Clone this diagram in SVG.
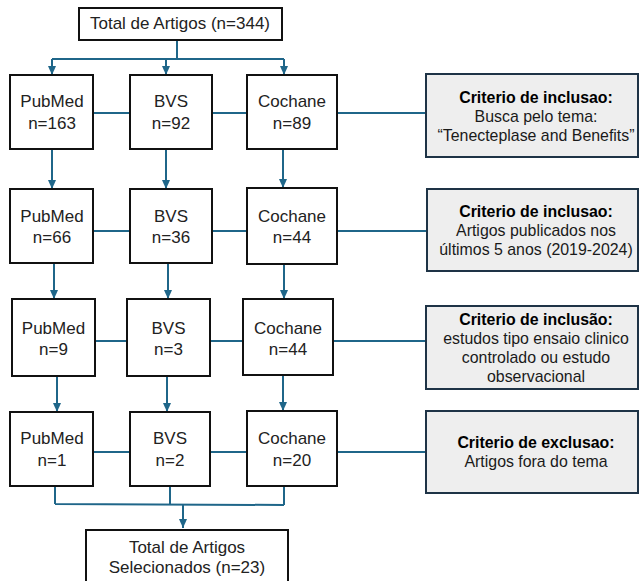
<svg xmlns="http://www.w3.org/2000/svg" width="639" height="581" viewBox="0 0 639 581">
<defs>
<style>
.node rect{fill:#ffffff;stroke:#111111;stroke-width:2}
.node text{font-family:"Liberation Sans",Arial,sans-serif;font-size:17px;fill:#222222;text-anchor:middle}
.crit rect{fill:#eeeeee;stroke:#1e3346;stroke-width:2}
.crit text{font-family:"Liberation Sans",Arial,sans-serif;font-size:15.9px;fill:#1a1a1a;text-anchor:middle}
.crit .b{font-weight:bold;fill:#000000}
#connectors path{fill:none;stroke:#1f6689;stroke-width:2}
</style>
<marker id="arr" markerUnits="userSpaceOnUse" markerWidth="10" markerHeight="10" viewBox="0 0 10 10" refX="9" refY="5" orient="auto">
<path d="M0,1 L9,5 L0,9 z" fill="#1f6689"/>
</marker>
</defs>
<rect width="639" height="581" fill="#ffffff"/>
<g id="connectors">
<path d="M177,40 V59 M52,59 H284"/>
<path d="M52,59 V75" marker-end="url(#arr)"/>
<path d="M166,59 V75" marker-end="url(#arr)"/>
<path d="M284,59 V75" marker-end="url(#arr)"/>
<path d="M93,113 H130 M212,113 H247 M337,113 H426"/>
<path d="M52,149 V189" marker-end="url(#arr)"/>
<path d="M166,149 V189" marker-end="url(#arr)"/>
<path d="M283,149 V188" marker-end="url(#arr)"/>
<path d="M93,231 H130 M212,231 H247 M337,231 H427"/>
<path d="M54,263 V299" marker-end="url(#arr)"/>
<path d="M168,263 V299" marker-end="url(#arr)"/>
<path d="M284,264 V299" marker-end="url(#arr)"/>
<path d="M95,341 H127 M210,341 H243 M333,341 H426"/>
<path d="M57,376 V412" marker-end="url(#arr)"/>
<path d="M167,376 V412" marker-end="url(#arr)"/>
<path d="M283,375 V411" marker-end="url(#arr)"/>
<path d="M93,452 H130 M210,452 H247 M337,452 H426"/>
<path d="M55,486 V504 M170,486 V504 M284,486 V505 M55,504 L284,505"/>
<path d="M183,504 V528" marker-end="url(#arr)"/>
</g>
<g id="total" class="node"><rect x="79" y="8" width="203" height="32"/><text x="180" y="29">Total de Artigos (n=344)</text></g>
<g id="pubmed1" class="node"><rect x="10" y="75" width="83" height="74"/><text x="52" y="107">PubMed</text><text x="52" y="129">n=163</text></g>
<g id="bvs1" class="node"><rect x="130" y="75" width="82" height="74"/><text x="171" y="107">BVS</text><text x="171" y="129">n=92</text></g>
<g id="cochane1" class="node"><rect x="247" y="75" width="90" height="74"/><text x="292" y="107">Cochane</text><text x="292" y="129">n=89</text></g>
<g id="crit1" class="crit"><rect x="426" y="74" width="212" height="83"/><text class="b" x="536" y="103">Criterio de inclusao:</text><text x="536" y="122">Busca pelo tema:</text><text x="536" y="141">“Tenecteplase and Benefits”</text></g>
<g id="pubmed2" class="node"><rect x="10" y="189" width="83" height="74"/><text x="52" y="222">PubMed</text><text x="52" y="243">n=66</text></g>
<g id="bvs2" class="node"><rect x="130" y="189" width="82" height="74"/><text x="171" y="222">BVS</text><text x="171" y="243">n=36</text></g>
<g id="cochane2" class="node"><rect x="247" y="188" width="90" height="76"/><text x="292" y="222">Cochane</text><text x="292" y="243">n=44</text></g>
<g id="crit2" class="crit"><rect x="427" y="189" width="211" height="82"/><text class="b" x="536" y="217">Criterio de inclusao:</text><text x="536" y="236">Artigos publicados nos</text><text x="536" y="255">últimos 5 anos (2019-2024)</text></g>
<g id="pubmed3" class="node"><rect x="12" y="299" width="83" height="77"/><text x="53.5" y="334">PubMed</text><text x="53.5" y="355">n=9</text></g>
<g id="bvs3" class="node"><rect x="127" y="299" width="83" height="77"/><text x="168.5" y="334">BVS</text><text x="168.5" y="355">n=3</text></g>
<g id="cochane3" class="node"><rect x="243" y="299" width="90" height="76"/><text x="288" y="334">Cochane</text><text x="288" y="355">n=44</text></g>
<g id="crit3" class="crit"><rect x="426" y="306" width="212" height="83"/><text class="b" x="536" y="325">Criterio de inclusão:</text><text x="536" y="344">estudos tipo ensaio clinico</text><text x="536" y="363">controlado ou estudo</text><text x="536" y="382">observacional</text></g>
<g id="pubmed4" class="node"><rect x="10" y="412" width="83" height="74"/><text x="52" y="444">PubMed</text><text x="52" y="466">n=1</text></g>
<g id="bvs4" class="node"><rect x="130" y="412" width="80" height="74"/><text x="170" y="444">BVS</text><text x="170" y="466">n=2</text></g>
<g id="cochane4" class="node"><rect x="247" y="411" width="90" height="75"/><text x="292" y="444">Cochane</text><text x="292" y="466">n=20</text></g>
<g id="crit4" class="crit"><rect x="426" y="411" width="212" height="82"/><text class="b" x="536" y="448">Criterio de exclusao:</text><text x="536" y="467">Artigos fora do tema</text></g>
<g id="selected" class="node"><rect x="86" y="530" width="202" height="52"/><text x="187" y="553">Total de Artigos</text><text x="187" y="573">Selecionados (n=23)</text></g>
</svg>
